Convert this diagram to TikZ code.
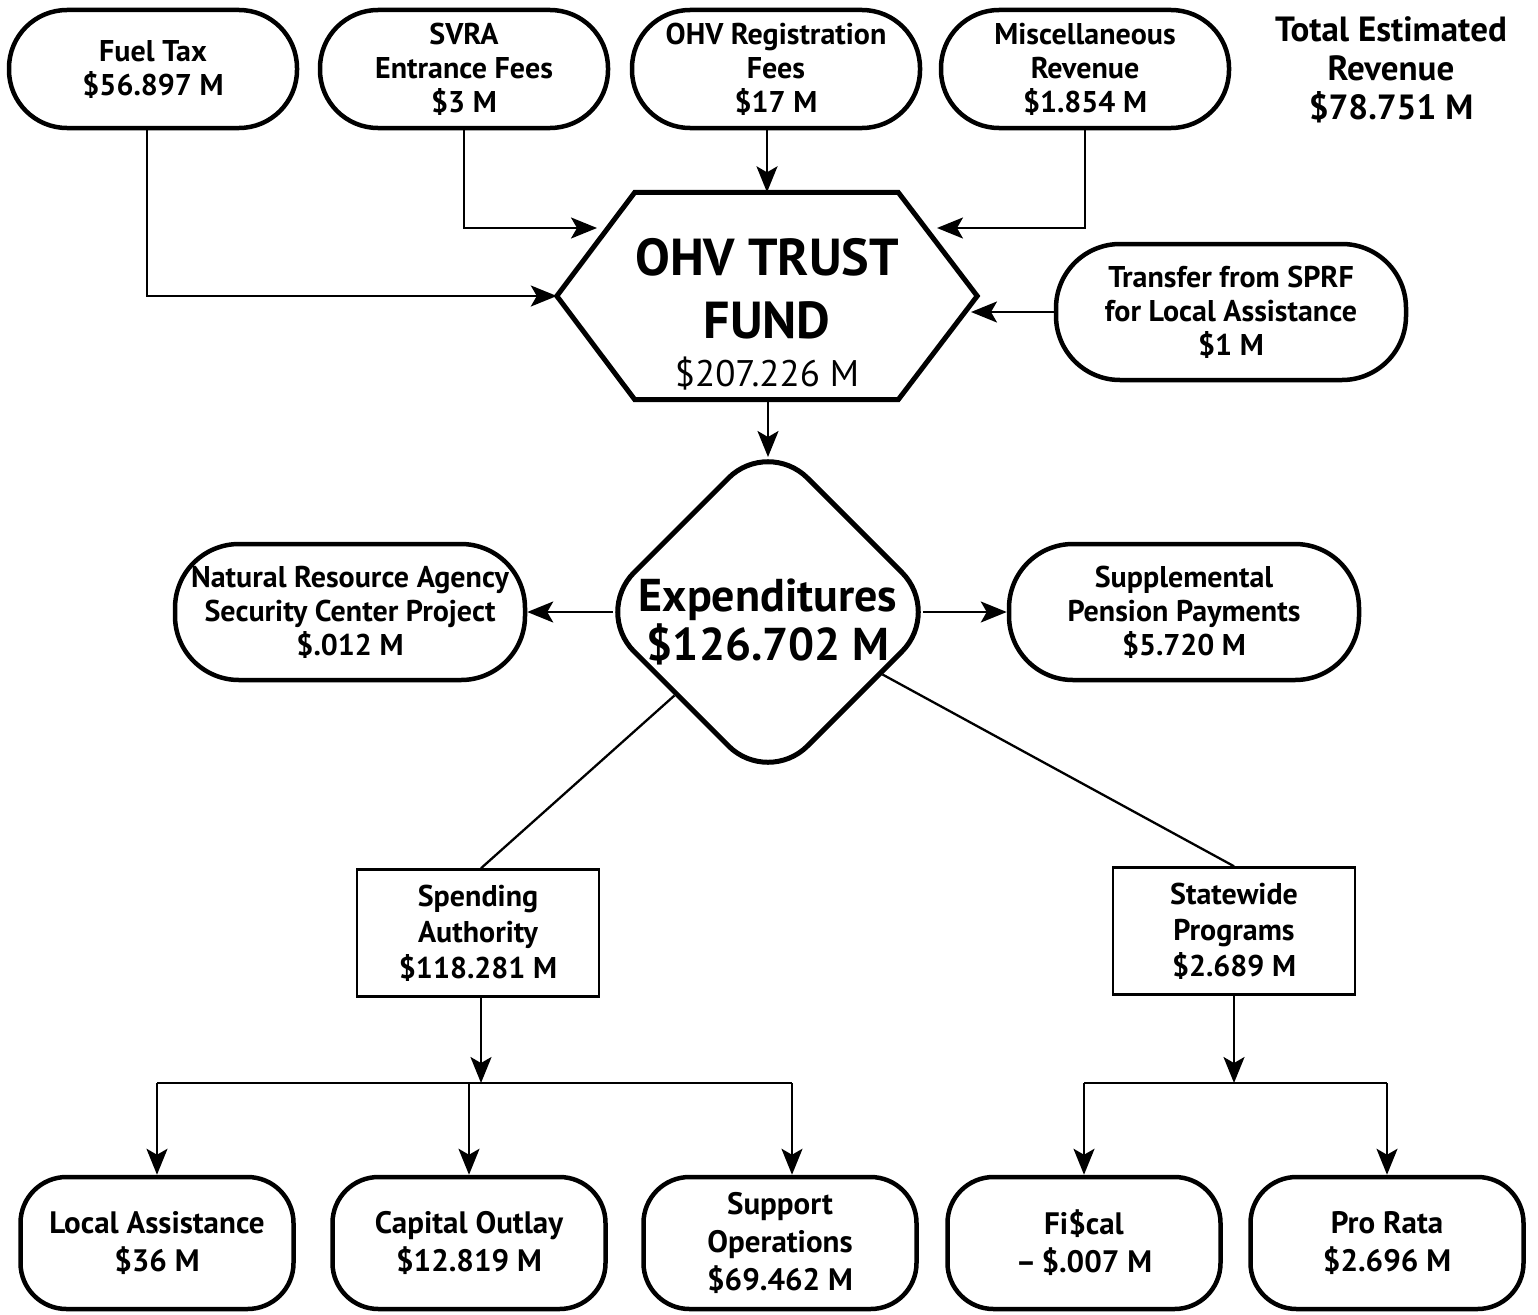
\documentclass[tikz,border=0pt]{standalone}
\usepackage{fontspec}
\setmainfont{PT Sans}
\usetikzlibrary{arrows.meta, positioning, shapes.geometric}
\tikzstyle{block} = [align=center, inner sep=2pt, font=\bfseries\fontsize{30}{34}\selectfont]
\tikzstyle{source} = [draw, block, line width=4.5pt, rounded corners=58pt, minimum width=288pt, minimum height=118pt]
\tikzstyle{side} = [draw, block, line width=4.5pt, rounded corners=64pt, minimum width=350pt, minimum height=136pt]
\tikzstyle{program} = [draw, block, line width=2.5pt, minimum width=242pt, minimum height=127pt, font=\bfseries\fontsize{30}{36}\selectfont]
\tikzstyle{leaf} = [draw, block, line width=4.5pt, rounded corners=46pt, minimum width=273pt, minimum height=132pt, font=\bfseries\fontsize{31}{38}\selectfont]
\tikzstyle{flow} = [-{Stealth[length=26pt, width=21pt, inset=6pt]}, line width=2.3pt]
\tikzstyle{link} = [line width=2.3pt]

\begin{document}
\begin{tikzpicture}[x=1pt, y=-1pt]
    \useasboundingbox (0,0) rectangle (1538,1314);

    % Revenue.
    \node (fuel) [source] at (153,69) {Fuel Tax\\\$56.897 M};
    \node (svra) [source] at (464,69) {SVRA\\Entrance Fees\\\$3 M};
    \node (reg) [source] at (776,69) {OHV Registration\\Fees\\\$17 M};
    \node (misc) [source] at (1085,69) {Miscellaneous\\Revenue\\\$1.854 M};
    \node (total) [block, font=\bfseries\fontsize{35}{39}\selectfont] at (1391,70) {Total Estimated\\Revenue\\\$78.751 M};
    \node (sprf) [side] at (1231,312) {Transfer from SPRF\\for Local Assistance\\\$1 M};

    % Fund.
    \node (fund) [minimum width=420pt, minimum height=207pt] at (767,296) {};
    \node (fund text) [block, font=\bfseries\fontsize{52}{63}\selectfont] at (767,314)
        {OHV TRUST\\FUND\\[-15pt]{\mdseries\fontsize{37}{40}\selectfont\$207.226 M}};
    \draw [line width=5pt, line join=miter] ([xshift=78pt]fund.north west) -- ([xshift=-79pt]fund.north east)
        -- (fund.east) -- ([xshift=-79pt]fund.south east) -- ([xshift=78pt]fund.south west) -- (fund.west) -- cycle;

    % Expenditures.
    \node (exp) [diamond, draw, line width=5pt, rounded corners=56pt, minimum width=349pt, minimum height=349pt] at (768,612) {};
    \node (exp text) [block, font=\bfseries\fontsize{46}{49}\selectfont] at (768,622) {Expenditures\\\$126.702 M};
    \node (nra) [side] at (350,612) {Natural Resource Agency\\Security Center Project\\\$.012 M};
    \node (supp) [side] at (1184,612) {Supplemental\\Pension Payments\\\$5.720 M};

    \node (spend) [program] at (478,933) {Spending\\Authority\\\$118.281 M};
    \node (state) [program] at (1234,931) {Statewide\\Programs\\\$2.689 M};

    \node (local) [leaf] at (157,1243) {Local Assistance\\\$36 M};
    \node (capital) [leaf] at (469,1243) {Capital Outlay\\\$12.819 M};
    \node (support) [leaf] at (780,1243) {Support\\Operations\\\$69.462 M};
    \node (fiscal) [leaf] at (1084,1243) {Fi\$cal\\--\,\$.007 M};
    \node (prorata) [leaf] at (1387,1243) {Pro Rata\\\$2.696 M};

    \coordinate (svra in) at (597,228);
    \coordinate (misc in) at (937,228);
    \coordinate (sprf in) at (971,312);
    \coordinate (spend bus) at (481,1083);
    \coordinate (state bus) at (1234,1083);

    % Arrows in.
    \draw [flow] ([xshift=-6pt]fuel.south) |- (fund.west);
    \draw [flow] (svra) |- (svra in);
    \draw [flow] (reg.south -| fund) -- (fund.north);
    \draw [flow] (misc) |- (misc in);
    \draw [flow] (sprf) -- (sprf in);

    % Arrows out.
    \draw [flow] (fund.south -| exp) -- ([yshift=-22pt]exp.north);
    \draw [flow] ([xshift=22pt]exp.west) -- (nra);
    \draw [flow] ([xshift=-22pt]exp.east) -- (supp);
    \draw [link] (exp) -- ([xshift=3pt]spend.north);
    \draw [link] (exp) -- (state.north);

    % Buses.
    \draw [flow] (spend.south -| spend bus) -- (spend bus);
    \draw [link] (local.north |- spend bus) -- ([xshift=12pt]support.north |- spend bus);
    \foreach \n/\dx in {local/0, capital/0, support/12}
        \draw [flow] ([xshift=\dx pt]\n.north |- spend bus) -- ([xshift=\dx pt]\n.north);

    \draw [flow] (state) -- (state bus);
    \draw [link] (fiscal.north |- state bus) -- (prorata.north |- state bus);
    \foreach \n in {fiscal, prorata}
        \draw [flow] (\n.north |- state bus) -- (\n.north);
\end{tikzpicture}
\end{document}
